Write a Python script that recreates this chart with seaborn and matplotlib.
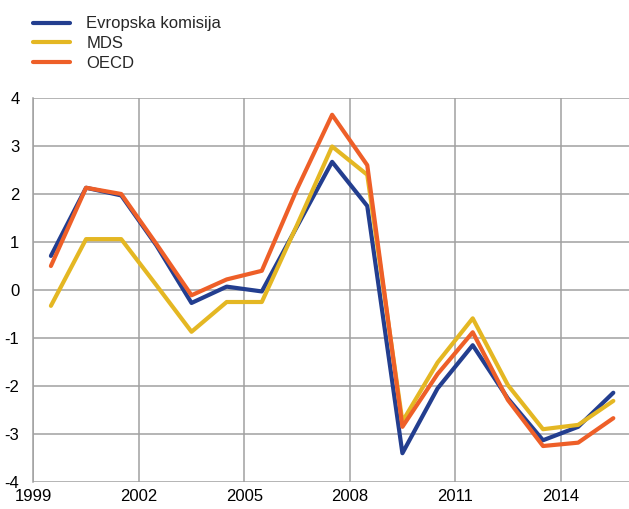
import numpy as np
import pandas as pd
import seaborn as sns
from matplotlib import pyplot as plt

# godine (sredina godine na osi)
years = [1999, 2000, 2001, 2002, 2003, 2004, 2005, 2006, 2007,
         2008, 2009, 2010, 2011, 2012, 2013, 2014, 2015]

ek = [0.71, 2.13, 1.97, 0.93, -0.27, 0.07, -0.03, 1.32, 2.67,
      1.75, -3.40, -2.05, -1.15, -2.26, -3.13, -2.85, -2.14]
mds = [-0.33, 1.06, 1.06, 0.10, -0.87, -0.25, -0.25, 1.35, 2.99,
       2.40, -2.74, -1.51, -0.59, -1.98, -2.90, -2.81, -2.31]
oecd = [0.50, 2.13, 2.00, 0.96, -0.11, 0.22, 0.40, 2.10, 3.65,
        2.60, -2.85, -1.75, -0.88, -2.29, -3.25, -3.18, -2.67]

series_names = ['Evropska komisija', 'MDS', 'OECD']
colors = ['#233e8f', '#e4b723', '#ee5f28']

x_ticks = [1999, 2002, 2005, 2008, 2011, 2014]
y_ticks = [-4, -3, -2, -1, 0, 1, 2, 3, 4]

df = pd.DataFrame({
    'x': np.array(years * 3) + 0.5,
    'y': ek + mds + oecd,
    'serija': [n for n in series_names for _ in years],
})

sns.set_style('white')
plt.rcParams['font.family'] = ['Liberation Sans', 'DejaVu Sans']

fig = plt.figure(figsize=(6.29, 5.09), dpi=100)
ax = fig.add_axes([0.053, 0.053, 0.950, 0.7545])

sns.lineplot(data=df, x='x', y='y', hue='serija', hue_order=series_names,
             palette=colors, linewidth=3.0, ax=ax, legend=False, zorder=3)

ax.set_xlim(1999, 2016)
ax.set_ylim(-4, 4)
ax.set_xticks(x_ticks)
ax.set_yticks(y_ticks)
ax.set_xticklabels([str(t) for t in x_ticks])
ax.set_yticklabels([str(t) for t in y_ticks])
ax.set_xlabel('')
ax.set_ylabel('')

ax.grid(True, color='#a0a0a0', linewidth=1.1)
for s in ['top', 'right', 'bottom']:
    ax.spines[s].set_visible(False)
ax.spines['left'].set_color('#a0a0a0')
ax.spines['left'].set_linewidth(1.1)
ax.tick_params(axis='x', length=4, color='#a0a0a0', width=1.1, pad=1, labelsize=12, labelcolor='black')
ax.tick_params(axis='y', length=0, pad=10, labelsize=12, labelcolor='black')

handles = [plt.Line2D([], [], color=c, linewidth=3.0) for c in colors]
fig.legend(handles, series_names, loc='upper left', bbox_to_anchor=(0.042, 0.981),
           frameon=False, fontsize=12, handlelength=2.2, handletextpad=1.0,
           labelspacing=0.28, borderaxespad=0)

fig.savefig('out.png', dpi=100)
